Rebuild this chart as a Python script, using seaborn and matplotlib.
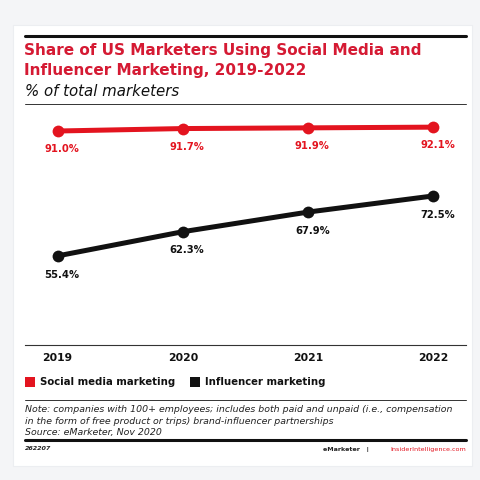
import matplotlib
matplotlib.use("Agg")
import matplotlib.pyplot as plt
import matplotlib.patches as mpatches
import seaborn as sns
import pandas as pd

years = ["2019", "2020", "2021", "2022"]
social_media = [91.0, 91.7, 91.9, 92.1]
influencer = [55.4, 62.3, 67.9, 72.5]
series_names = ["Social media marketing", "Influencer marketing"]

RED = "#e3141f"
TITLE_RED = "#d51a33"
BLACK = "#111111"

df = pd.DataFrame({
    "year": list(range(len(years))) * 2,
    "value": social_media + influencer,
    "series": [series_names[0]] * len(years) + [series_names[1]] * len(years),
})

sns.set_theme(style="white")
plt.rcParams["font.family"] = ["DejaVu Sans"]

fig = plt.figure(figsize=(4.8, 4.8), dpi=100)
fig.patch.set_facecolor("#f4f5f7")

# white card
fig.add_artist(mpatches.Rectangle((13 / 480, 1 - 466 / 480), 459 / 480, 441 / 480,
                                  transform=fig.transFigure, facecolor="white",
                                  edgecolor="#eceef1", linewidth=0.8, zorder=0))

# header rules and titles
fig.add_artist(plt.Line2D([25 / 480, 466 / 480], [1 - 36 / 480] * 2, color=BLACK, lw=2.2))
fig.text(24 / 480, 1 - 50 / 480, "Share of US Marketers Using Social Media and",
         color=TITLE_RED, fontsize=11, fontweight="bold", va="center")
fig.text(24 / 480, 1 - 70 / 480, "Influencer Marketing, 2019-2022",
         color=TITLE_RED, fontsize=11, fontweight="bold", va="center")
fig.text(25 / 480, 1 - 91 / 480, "% of total marketers",
         color=BLACK, fontsize=10.8, style="italic", va="center")
fig.add_artist(plt.Line2D([25 / 480, 466 / 480], [1 - 104 / 480] * 2, color="#333333", lw=0.7))

ax = fig.add_axes([25 / 480, 1 - 345 / 480, 441 / 480, 241 / 480])
ax.set_facecolor("white")
sns.lineplot(data=df, x="year", y="value", hue="series",
             palette={series_names[0]: RED, series_names[1]: BLACK},
             marker="o", markersize=8.5, markeredgewidth=0, linewidth=3.6,
             legend=False, ax=ax)

for i in range(len(years)):
    ax.annotate(f"{social_media[i]:.1f}%", (i, social_media[i]), xytext=(3, -13),
                textcoords="offset points", ha="center", va="center",
                color=RED, fontsize=7.2, fontweight="bold")
    ax.annotate(f"{influencer[i]:.1f}%", (i, influencer[i]), xytext=(3, -13.5),
                textcoords="offset points", ha="center", va="center",
                color=BLACK, fontsize=7.2, fontweight="bold")

ax.set_xlim(-0.26, 3.26)
ax.set_ylim(30, 98.7)
ax.set_xticks(range(len(years)))
ax.set_xticklabels(years, fontsize=7.8, fontweight="bold", color=BLACK)
ax.set_yticks([])
ax.set_xlabel("")
ax.set_ylabel("")
for s in ["top", "left", "right"]:
    ax.spines[s].set_visible(False)
ax.spines["bottom"].set_color("#333333")
ax.spines["bottom"].set_linewidth(0.8)
ax.tick_params(axis="x", length=3, width=0.8, color="#333333", pad=6, direction="in")

# legend
fig.add_artist(mpatches.Rectangle((25 / 480, 1 - 387 / 480), 10 / 480, 10 / 480,
                                  transform=fig.transFigure, facecolor=RED, edgecolor="none"))
fig.text(40 / 480, 1 - 382 / 480, series_names[0], fontsize=7.3, fontweight="bold",
         color=BLACK, va="center")
fig.add_artist(mpatches.Rectangle((190 / 480, 1 - 387 / 480), 10 / 480, 10 / 480,
                                  transform=fig.transFigure, facecolor=BLACK, edgecolor="none"))
fig.text(205 / 480, 1 - 382 / 480, series_names[1], fontsize=7.3, fontweight="bold",
         color=BLACK, va="center")

# notes
fig.add_artist(plt.Line2D([25 / 480, 466 / 480], [1 - 400 / 480] * 2, color="#333333", lw=0.7))
fig.text(25 / 480, 1 - 409 / 480,
         "Note: companies with 100+ employees; includes both paid and unpaid (i.e., compensation",
         fontsize=6.75, style="italic", color="#222222", va="center")
fig.text(25 / 480, 1 - 421 / 480,
         "in the form of free product or trips) brand-influencer partnerships",
         fontsize=6.75, style="italic", color="#222222", va="center")
fig.text(25 / 480, 1 - 432 / 480, "Source: eMarketer, Nov 2020",
         fontsize=6.75, style="italic", color="#222222", va="center")
fig.add_artist(plt.Line2D([25 / 480, 466 / 480], [1 - 440 / 480] * 2, color=BLACK, lw=2.2))

fig.text(25 / 480, 1 - 449 / 480, "262207", fontsize=4.6, fontweight="bold",
         style="italic", color="#222222", va="center")
fig.text(466 / 480, 1 - 449 / 480, "InsiderIntelligence.com", fontsize=4.6,
         color=RED, va="center", ha="right")
fig.text(369 / 480, 1 - 449 / 480, "eMarketer   |", fontsize=4.6,
         fontweight="bold", color="#222222", va="center", ha="right")

fig.savefig("out.png", dpi=100, facecolor=fig.get_facecolor())
